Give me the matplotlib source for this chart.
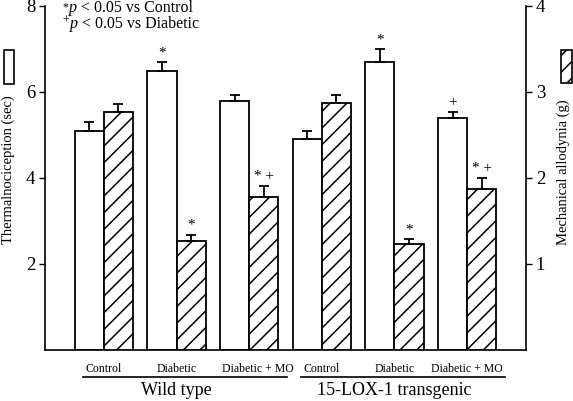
import matplotlib
matplotlib.use("Agg")
import matplotlib.pyplot as plt
import numpy as np
from matplotlib.patches import Rectangle
import matplotlib.transforms as mtransforms

plt.rcParams['font.family'] = ['Liberation Serif', 'DejaVu Serif']
plt.rcParams['hatch.linewidth'] = 1.1

# ---- data ----
groups = ["Control", "Diabetic", "Diabetic + MO", "Control", "Diabetic", "Diabetic + MO"]
genotypes = ["Wild type", "15-LOX-1 transgenic"]
thermal = [5.1, 6.5, 5.8, 4.9, 6.7, 5.4]          # sec (left axis)
thermal_err = [0.2, 0.2, 0.12, 0.2, 0.3, 0.13]
mech = [2.77, 1.27, 1.78, 2.87, 1.23, 1.87]       # g (right axis)
mech_err = [0.09, 0.07, 0.13, 0.1, 0.06, 0.13]
thermal_marks = ["", "*", "", "", "*", "+"]
mech_marks = ["", "*", "* +", "", "*", "* +"]
left_ticks = [2, 4, 6, 8]
right_ticks = [1, 2, 3, 4]
key_symbols = ["*", "+"]
key_texts = [" < 0.05 vs Control", " < 0.05 vs Diabetic"]

W, H = 573, 401
fig = plt.figure(figsize=(W / 100, H / 100), dpi=100)
ax = fig.add_axes([45 / W, 1 - 350 / H, 481 / W, 344 / H])
ax2 = ax.twinx()

x = np.arange(len(groups))
bw = 0.4
ax.bar(x - bw / 2, thermal, width=bw, color="white", edgecolor="black", linewidth=1.3, zorder=2)
ax.errorbar(x - bw / 2, thermal, yerr=[np.zeros(len(x)), thermal_err], fmt="none",
            ecolor="black", elinewidth=1.3, capsize=3.5, capthick=1.3, zorder=3)
ax2.bar(x + bw / 2, mech, width=bw, color="white", edgecolor="black", hatch="//",
        linewidth=1.3, zorder=2)
ax2.errorbar(x + bw / 2, mech, yerr=[np.zeros(len(x)), mech_err], fmt="none",
             ecolor="black", elinewidth=1.3, capsize=3.5, capthick=1.3, zorder=3)

for xi, v, e, m in zip(x, thermal, thermal_err, thermal_marks):
    if m:
        ax.annotate(m, (xi - bw / 2, v + e), xytext=(0, 2), textcoords="offset points",
                    ha="center", va="bottom", fontsize=11)
for xi, v, e, m in zip(x, mech, mech_err, mech_marks):
    if m:
        ax2.annotate(m, (xi + bw / 2, v + e), xytext=(0, 2), textcoords="offset points",
                     ha="center", va="bottom", fontsize=11)

ax.set_xlim(-0.81, len(groups) - 1 + 0.81)
ax.set_ylim(0, 8)
ax2.set_ylim(0, 4)
ax.set_yticks(left_ticks)
ax2.set_yticks(right_ticks)
ax.tick_params(axis="y", labelsize=13.5, length=4, width=1, direction="out", pad=3)
ax2.tick_params(axis="y", labelsize=13.5, length=4, width=1, direction="out", pad=3)
ax.set_xticks(x)
ax.set_xticklabels(groups, fontsize=8.5)
ax.tick_params(axis="x", length=0, pad=9)
# the WT "Diabetic + MO" label sits a little to the right in the reference
lbl = ax.get_xticklabels()[2]
lbl.set_transform(lbl.get_transform() + mtransforms.ScaledTranslation(9 / 100, 0, fig.dpi_scale_trans))

for a in (ax, ax2):
    a.spines["top"].set_visible(False)
    for s in ("left", "right", "bottom"):
        a.spines[s].set_linewidth(1.2)
ax.spines["right"].set_visible(False)
ax2.spines["left"].set_visible(False)
ax2.spines["bottom"].set_visible(False)

trans = mtransforms.blended_transform_factory(ax.transData, ax.transAxes)
for gi, name in enumerate(genotypes):
    x0 = x[gi * 3] - 0.29
    x1 = x[gi * 3 + 2] + 0.52
    ax.plot([x0, x1], [-0.078, -0.078], color="black", lw=1.2, transform=trans, clip_on=False)
    ax.text(x[gi * 3 + 1], -0.118, name, transform=trans, ha="center", va="center", fontsize=13)

# axis labels and key patches
fig.text(8 / W, 1 - 170 / H, "Thermalnociception (sec)", rotation=90, ha="center", va="center", fontsize=10.5)
fig.text(563 / W, 1 - 172 / H, "Mechanical allodynia (g)", rotation=90, ha="center", va="center", fontsize=10.5)
fig.patches.append(Rectangle((4 / W, 1 - 84 / H), 10 / W, 34 / H, transform=fig.transFigure,
                             facecolor="white", edgecolor="black", lw=1.2))
fig.patches.append(Rectangle((561 / W, 1 - 83 / H), 11 / W, 33 / H, transform=fig.transFigure,
                             facecolor="white", edgecolor="black", hatch="//", lw=1.2))

# significance key, built piece by piece (raised symbol, italic p, plain rest)
renderer = fig.canvas.get_renderer()
for sym, rest, base, rise in zip(key_symbols, key_texts, [11.5, 28.0], [1.5, 4.0]):
    xcur = 62.0
    for s, size, style, dy in [(sym, 8.5, "normal", rise), ("p", 11.5, "italic", 0.0), (rest, 11.5, "normal", 0.0)]:
        t = fig.text(xcur / W, 1 - (base - dy) / H, s, fontsize=size, style=style,
                     ha="left", va="baseline")
        xcur += t.get_window_extent(renderer).width + (1.5 if s == sym else 0)

fig.savefig("out.png", dpi=100)
